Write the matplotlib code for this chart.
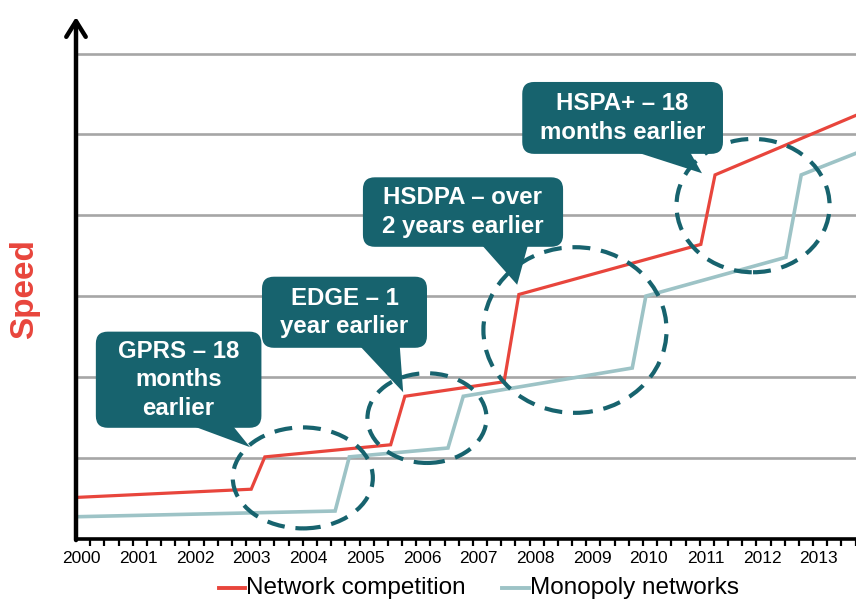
import matplotlib
matplotlib.use("Agg")
import matplotlib.pyplot as plt
from matplotlib.patches import Ellipse, FancyBboxPatch, Polygon

plt.rcParams['font.family'] = ['Liberation Sans', 'DejaVu Sans']

# data (year, relative speed)
red_years = [1999.95, 2002.99, 2003.23, 2005.45, 2005.70, 2007.45, 2007.71, 2010.92, 2011.17, 2013.70]
red_speed = [0.51, 0.61, 1.01, 1.16, 1.76, 1.94, 3.02, 3.64, 4.50, 5.25]
blue_years = [1999.95, 2004.47, 2004.72, 2006.46, 2006.73, 2009.71, 2009.95, 2012.42, 2012.69, 2013.70]
blue_speed = [0.27, 0.34, 1.01, 1.12, 1.76, 2.11, 3.00, 3.48, 4.50, 4.78]
year_labels = list(range(2000, 2014))

# callouts: text, box (x0, x1, y0, y1), tail (base x0, base x1, tip x, tip y)
callouts = [
    ("GPRS – 18\nmonths\nearlier", (2000.25, 2003.17, 1.37, 2.56), (2001.97, 2002.67, 2002.97, 1.13)),
    ("EDGE – 1\nyear earlier", (2003.18, 2006.09, 2.36, 3.24), (2004.91, 2005.61, 2005.67, 1.81)),
    ("HSDPA – over\n2 years earlier", (2004.96, 2008.49, 3.61, 4.47), (2007.06, 2007.87, 2007.68, 3.14)),
    ("HSPA+ – 18\nmonths earlier", (2007.77, 2011.31, 4.76, 5.65), (2009.79, 2010.73, 2010.94, 4.52)),
]
# dashed ellipses: centre x, centre y, width, height
ellipses = [
    (2003.90, 0.75, 2.47, 1.25),
    (2006.09, 1.49, 2.10, 1.11),
    (2008.70, 2.58, 3.23, 2.05),
    (2011.84, 4.12, 2.70, 1.65),
]

RED = '#E8453C'
BLUE = '#9DC3C6'
TEAL = '#17636E'

fig = plt.figure(figsize=(8.56, 6), dpi=100)
ax = fig.add_axes([76 / 856, 61.5 / 600, 780 / 856, 521.5 / 600])
ax.set_xlim(1999.90, 2013.656)
ax.set_ylim(0, 6.454)

for g in range(1, 7):
    ax.axhline(g, color='#A6A6A6', lw=1.9, zorder=1)

ax.plot(blue_years, blue_speed, color=BLUE, lw=2.6, zorder=3, solid_joinstyle='miter')
ax.plot(red_years, red_speed, color=RED, lw=2.3, zorder=4, solid_joinstyle='miter')

for cx, cy, w, h in ellipses:
    ax.add_patch(Ellipse((cx, cy), w, h, fill=False, ec=TEAL, lw=3,
                         linestyle=(0, (4.3, 2.6)), zorder=5))

for txt, (x0, x1, y0, y1), (b0, b1, tx, ty) in callouts:
    ax.add_patch(FancyBboxPatch((x0, y0), x1 - x0, y1 - y0,
                                boxstyle='round,pad=0,rounding_size=0.21',
                                mutation_aspect=0.70, fc=TEAL, ec='none', zorder=6))
    ax.add_patch(Polygon([(b0, y0 + 0.02), (b1, y0 + 0.02), (tx, ty)],
                         closed=True, fc=TEAL, ec='none', zorder=6))
    ax.text((x0 + x1) / 2, (y0 + y1) / 2, txt, ha='center', va='center',
            color='white', fontsize=17.3, fontweight='bold', linespacing=1.3, zorder=7)

# axes styling
for s in ['top', 'right', 'left']:
    ax.spines[s].set_visible(False)
ax.spines['bottom'].set_linewidth(2.6)
ax.spines['bottom'].set_color('black')
ax.set_yticks([])

quarters = [1999.90 + 0.25 * k for k in range(1, 56)]
ax.set_xticks(quarters)
ax.set_xticklabels([])
ax.tick_params(axis='x', which='major', direction='out', length=5, width=1.6, color='black')
ax.set_xticks(year_labels, minor=True)
ax.set_xticklabels([str(y) for y in year_labels], minor=True, fontsize=12.5)
ax.tick_params(axis='x', which='minor', length=0, pad=9)

# y axis with arrow head
ax.annotate('', xy=(0, 1), xytext=(0, -0.003), xycoords='axes fraction',
            textcoords='axes fraction',
            arrowprops=dict(arrowstyle='->,head_length=0.45,head_width=0.28',
                            lw=3.2, color='black', mutation_scale=25,
                            shrinkA=0, shrinkB=0),
            annotation_clip=False, zorder=10)

fig.text(25 / 856, 1 - 289 / 600, 'Speed', rotation=90, ha='center', va='center',
         color=RED, fontsize=24, fontweight='bold')

# legend drawn by hand under the axis
leg_y = 1 - 588 / 600
fig.add_artist(plt.Line2D([219 / 856, 245 / 856], [leg_y, leg_y], color=RED, lw=2.8))
fig.text(246 / 856, leg_y, 'Network competition', ha='left', va='center', fontsize=17.5)
fig.add_artist(plt.Line2D([502 / 856, 529 / 856], [leg_y, leg_y], color=BLUE, lw=2.8))
fig.text(530 / 856, leg_y, 'Monopoly networks', ha='left', va='center', fontsize=17.5)

fig.savefig('out.png', dpi=100)
